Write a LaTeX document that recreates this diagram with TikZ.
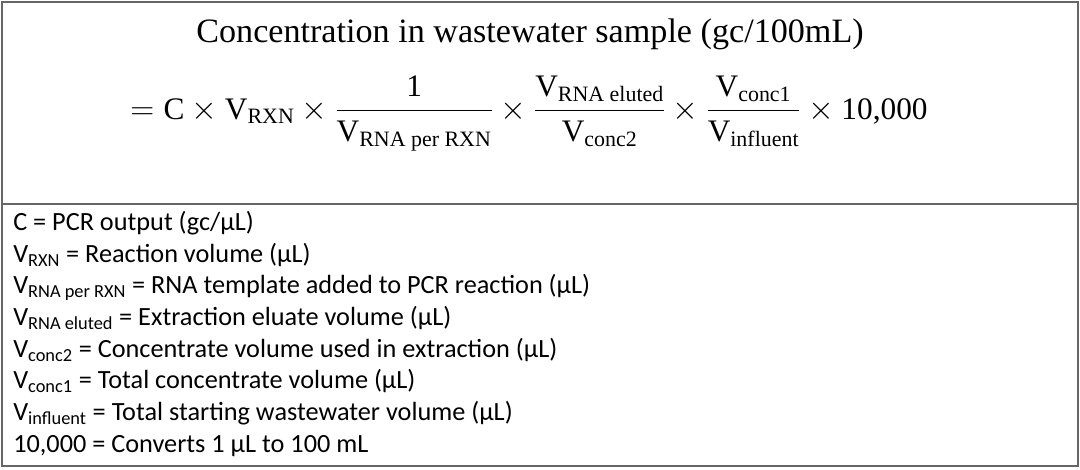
\documentclass[tikz,border=0pt]{standalone}
\usepackage{amsmath}
\usepackage{fontspec}
\setmainfont{Liberation Serif}
\newfontfamily\legendfont{Carlito}
\newcommand{\vv}[1]{\text{V}_{\text{#1}}}
\begin{document}
\begin{tikzpicture}[x=0.75pt,y=-0.75pt,
  frame/.style={draw=black!60, line width=1.2pt},
  eqtext/.style={anchor=base, inner sep=0pt},
  legend/.style={anchor=base west, inner sep=0pt, font=\legendfont\fontsize{19.7}{24}\selectfont}]
\useasboundingbox (0,0) rectangle (1080,469);
\draw[frame] (2,2) rectangle (1078,466);
\coordinate (dl) at (2,204);
\coordinate (dr) at (1078,204);
\draw[frame] (dl) -- (dr);
\node[eqtext, font=\fontsize{25.6}{30}\selectfont] (title) at (530,42) {Concentration in wastewater sample (gc/100mL)};
\node[eqtext, font=\fontsize{23.5}{28}\selectfont] (formula) at (529,119) {$\displaystyle = \text{C}\times\vv{RXN}\times\frac{\text{1}}{\vv{RNA per RXN}}\times\frac{\vv{RNA eluted}}{\vv{conc2}}\times\frac{\vv{conc1}}{\vv{influent}}\times\text{10,000}$};
\node[legend] (l1) at (13,230) {C = PCR output (gc/µL)};
\node[legend] (l2) at (13,262) {V\textsubscript{RXN} = Reaction volume (µL)};
\node[legend] (l3) at (13,293) {V\textsubscript{RNA per RXN} = RNA template added to PCR reaction (µL)};
\node[legend] (l4) at (13,325) {V\textsubscript{RNA eluted} = Extraction eluate volume (µL)};
\node[legend] (l5) at (13,357) {V\textsubscript{conc2} = Concentrate volume used in extraction (µL)};
\node[legend] (l6) at (13,388) {V\textsubscript{conc1} = Total concentrate volume (µL)};
\node[legend] (l7) at (13,420) {V\textsubscript{influent} = Total starting wastewater volume (µL)};
\node[legend] (l8) at (13,452) {10,000 = Converts 1 µL to 100 mL};
\end{tikzpicture}
\end{document}
